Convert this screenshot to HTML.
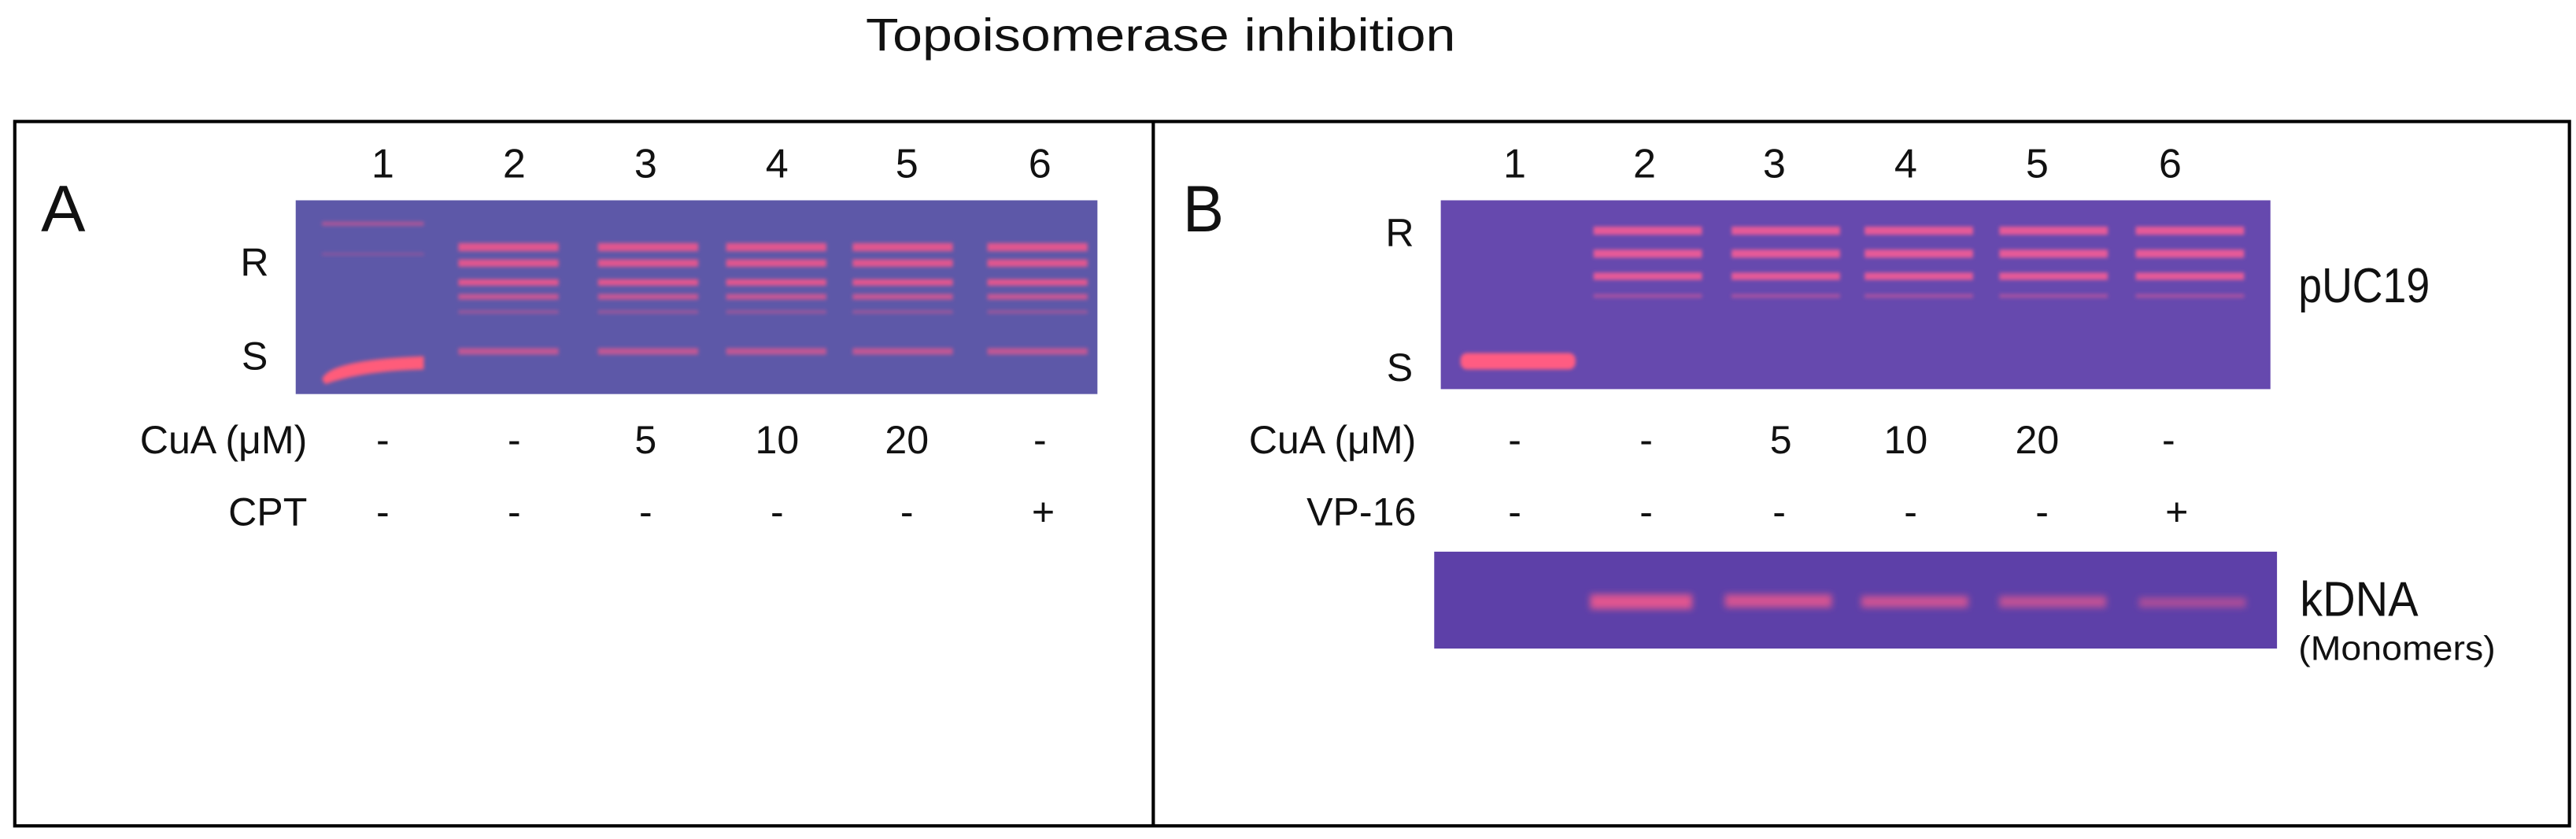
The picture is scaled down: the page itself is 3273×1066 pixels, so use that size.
<!DOCTYPE html>
<html><head><meta charset="utf-8"><style>
html,body{margin:0;padding:0;background:#fff;}
svg{display:block;}
text{font-family:"Liberation Sans",sans-serif;fill:#111;}
</style></head><body>
<svg width="3273" height="1066" viewBox="0 0 1568 511" preserveAspectRatio="none" xmlns="http://www.w3.org/2000/svg">
<defs>
<filter id="blur" x="-10%" y="-50%" width="120%" height="200%"><feGaussianBlur stdDeviation="1.1"/></filter>
<filter id="blur2" x="-10%" y="-50%" width="120%" height="200%"><feGaussianBlur stdDeviation="2"/></filter>
</defs>
<text x="527" y="31" font-size="28" textLength="359" lengthAdjust="spacingAndGlyphs">Topoisomerase inhibition</text>
<rect x="9" y="74" width="1555" height="429" fill="none" stroke="#000" stroke-width="2"/>
<line x1="702" y1="74" x2="702" y2="503" stroke="#000" stroke-width="2"/>

<!-- Panel A -->
<text x="25" y="141" font-size="40" textLength="27" lengthAdjust="spacingAndGlyphs">A</text>
<g font-size="25" text-anchor="middle">
<text x="233" y="108">1</text><text x="313" y="108">2</text><text x="393" y="108">3</text><text x="473" y="108">4</text><text x="552" y="108">5</text><text x="633" y="108">6</text>
</g>
<rect x="180" y="122" width="488" height="118" fill="#5d58a8"/>
<g filter="url(#blur)" fill="#e0568f">
<rect x="196" y="135" width="62" height="2.5" opacity="0.6"/>
<rect x="196" y="154" width="62" height="1.5" opacity="0.4"/>
<g id="la">
<rect x="279" y="148" width="61" height="5"/>
<rect x="279" y="158" width="61" height="4.5"/>
<rect x="279" y="170" width="61" height="4"/>
<rect x="279" y="179" width="61" height="3.5" opacity="0.8"/>
<rect x="279" y="189" width="61" height="2" opacity="0.5"/>
<rect x="279" y="212" width="61" height="4" opacity="0.75"/>
</g>
<use href="#la" x="85"/><use href="#la" x="163"/><use href="#la" x="240"/><use href="#la" x="322"/>
</g>
<path d="M196 231 Q200 219 258 217 L258 225 Q220 226 198 234 Z" fill="#ff5b7a" filter="url(#blur)"/>
<g font-size="24" text-anchor="middle">
<text x="155" y="168">R</text><text x="155" y="225">S</text>
</g>
<g font-size="24">
<text x="187" y="276" text-anchor="end">CuA (μM)</text>
<text x="187" y="320" text-anchor="end">CPT</text>
<g text-anchor="middle">
<text x="233" y="276">-</text><text x="313" y="276">-</text><text x="393" y="276">5</text><text x="473" y="276">10</text><text x="552" y="276">20</text><text x="633" y="276">-</text>
<text x="233" y="320">-</text><text x="313" y="320">-</text><text x="393" y="320">-</text><text x="473" y="320">-</text><text x="552" y="320">-</text><text x="635" y="320">+</text>
</g>
</g>

<!-- Panel B -->
<text x="720" y="141" font-size="40" textLength="25" lengthAdjust="spacingAndGlyphs">B</text>
<g font-size="25" text-anchor="middle">
<text x="922" y="108">1</text><text x="1001" y="108">2</text><text x="1080" y="108">3</text><text x="1160" y="108">4</text><text x="1240" y="108">5</text><text x="1321" y="108">6</text>
</g>
<rect x="877" y="122" width="505" height="115" fill="#6649ae"/>
<g filter="url(#blur)" fill="#e65a98">
<g id="lb">
<rect x="970" y="138" width="66" height="5"/>
<rect x="970" y="152" width="66" height="5"/>
<rect x="970" y="166" width="66" height="4.5"/>
<rect x="970" y="179" width="66" height="2.5" opacity="0.5"/>
</g>
<use href="#lb" x="84"/><use href="#lb" x="165"/><use href="#lb" x="247"/><use href="#lb" x="330"/>
</g>
<rect x="889" y="215" width="70" height="10" rx="4" fill="#ff5c82" filter="url(#blur)"/>
<g font-size="24" text-anchor="middle">
<text x="852" y="150">R</text><text x="852" y="232">S</text>
</g>
<text x="1399" y="184" font-size="30" textLength="80" lengthAdjust="spacingAndGlyphs">pUC19</text>
<g font-size="24">
<text x="862" y="276" text-anchor="end">CuA  (μM)</text>
<text x="862" y="320" text-anchor="end">VP-16</text>
<g text-anchor="middle">
<text x="922" y="276">-</text><text x="1002" y="276">-</text><text x="1084" y="276">5</text><text x="1160" y="276">10</text><text x="1240" y="276">20</text><text x="1320" y="276">-</text>
<text x="922" y="320">-</text><text x="1002" y="320">-</text><text x="1083" y="320">-</text><text x="1163" y="320">-</text><text x="1243" y="320">-</text><text x="1325" y="320">+</text>
</g>
</g>
<rect x="873" y="336" width="513" height="59" fill="#5d40a8"/>
<g filter="url(#blur2)" fill="#e05590">
<rect x="968" y="362" width="62" height="9"/>
<rect x="1050" y="362" width="65" height="8" opacity="0.9"/>
<rect x="1133" y="363" width="65" height="7" opacity="0.85"/>
<rect x="1217" y="363" width="65" height="7" opacity="0.75"/>
<rect x="1302" y="364" width="65" height="6" opacity="0.6"/>
</g>
<text x="1400" y="375" font-size="30" textLength="72" lengthAdjust="spacingAndGlyphs">kDNA</text>
<text x="1399" y="402" font-size="21" textLength="120" lengthAdjust="spacingAndGlyphs">(Monomers)</text>
</svg>
</body></html>
